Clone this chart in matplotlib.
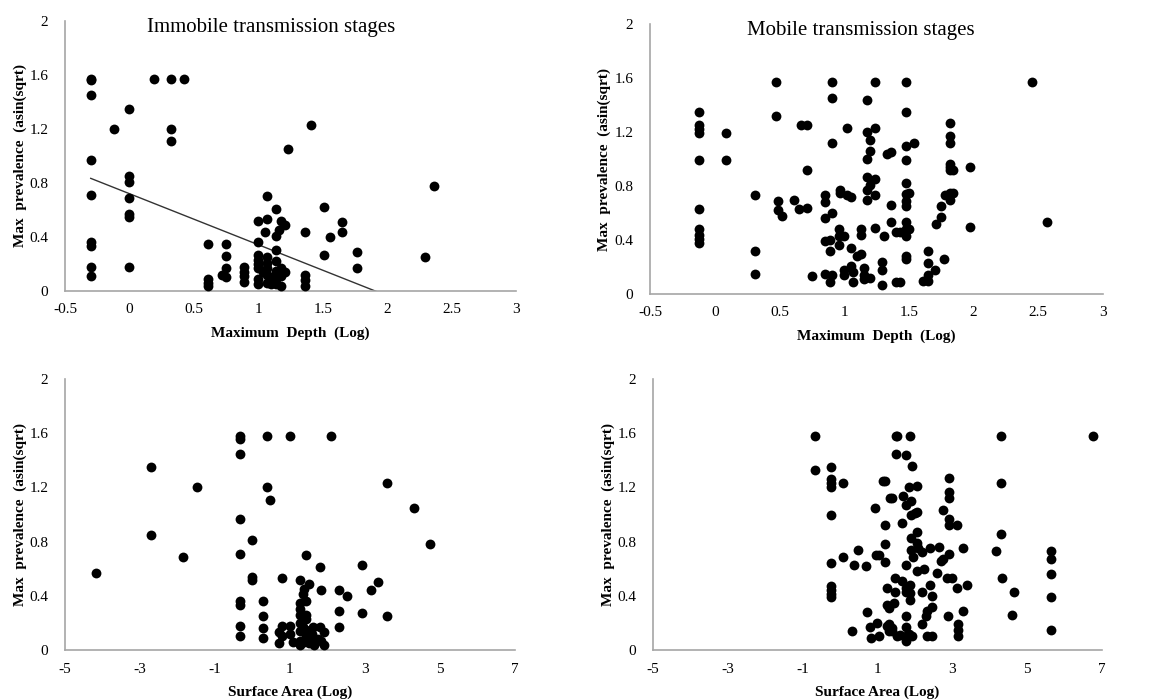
import numpy as np
import matplotlib
matplotlib.use("Agg")
import matplotlib.pyplot as plt
from matplotlib.ticker import FuncFormatter

plt.rcParams['font.family'] = ['Liberation Serif', 'DejaVu Serif']

# values (x, y)
depth_immobile = [
    (-0.30, 1.57), (-0.30, 1.56), (-0.30, 1.45), (-0.30, 0.97), (-0.30, 0.71),
    (-0.30, 0.36), (-0.30, 0.33), (-0.30, 0.18), (-0.30, 0.11),
    (-0.12, 1.20),
    (0.00, 1.35), (0.00, 0.85), (0.00, 0.81), (0.00, 0.69), (0.00, 0.57),
    (0.00, 0.55), (0.00, 0.18),
    (0.19, 1.57), (0.32, 1.57), (0.42, 1.57), (0.32, 1.20), (0.32, 1.11),
    (0.61, 0.35), (0.61, 0.09), (0.61, 0.06), (0.61, 0.04),
    (0.72, 0.12), (0.75, 0.35), (0.75, 0.26), (0.75, 0.17), (0.75, 0.10),
    (0.89, 0.18), (0.89, 0.14), (0.89, 0.11), (0.89, 0.07),
    (1.00, 0.52), (1.00, 0.36), (1.00, 0.27), (1.00, 0.23), (1.00, 0.20),
    (1.00, 0.17), (1.00, 0.09), (1.00, 0.05),
    (1.07, 0.70), (1.07, 0.53), (1.05, 0.44), (1.07, 0.25), (1.07, 0.21),
    (1.07, 0.17), (1.07, 0.12), (1.07, 0.06), (1.04, 0.14), (1.10, 0.10), (1.10, 0.05),
    (1.14, 0.61), (1.14, 0.41), (1.16, 0.45), (1.14, 0.30), (1.14, 0.22),
    (1.14, 0.15), (1.14, 0.09), (1.14, 0.05),
    (1.18, 0.52), (1.21, 0.49), (1.18, 0.17), (1.18, 0.11), (1.18, 0.04), (1.21, 0.14),
    (1.23, 1.05), (1.41, 1.23), (1.36, 0.44), (1.36, 0.12), (1.36, 0.08), (1.36, 0.04),
    (1.51, 0.62), (1.51, 0.27), (1.56, 0.40), (1.65, 0.51), (1.65, 0.44),
    (1.77, 0.29), (1.77, 0.17), (2.29, 0.25), (2.36, 0.78),
]
# trend line in the immobile depth panel
trend_slope = -0.378
trend_intercept = 0.721

depth_mobile = [
    (-0.12, 1.35), (-0.12, 1.25), (-0.12, 1.22), (-0.12, 1.19), (-0.12, 0.99),
    (-0.12, 0.63), (-0.12, 0.48), (-0.12, 0.44), (-0.12, 0.41), (-0.12, 0.38),
    (0.09, 1.19), (0.09, 0.99),
    (0.31, 0.73), (0.31, 0.32), (0.31, 0.15),
    (0.47, 1.57), (0.47, 1.32), (0.49, 0.69), (0.49, 0.62), (0.52, 0.58),
    (0.61, 0.70), (0.65, 0.63), (0.67, 1.25), (0.71, 1.25), (0.71, 0.92), (0.71, 0.64),
    (0.75, 0.13),
    (0.85, 0.73), (0.85, 0.68), (0.85, 0.56), (0.85, 0.39), (0.85, 0.15),
    (0.89, 0.40), (0.89, 0.32), (0.89, 0.09),
    (0.91, 1.57), (0.91, 1.45), (0.91, 1.12), (0.91, 0.60), (0.91, 0.14),
    (0.96, 0.48), (0.96, 0.43), (0.96, 0.36), (0.97, 0.77), (0.97, 0.75),
    (1.00, 0.43), (1.00, 0.18), (1.00, 0.14),
    (1.02, 1.23), (1.02, 0.73), (1.05, 0.72), (1.05, 0.34), (1.05, 0.21),
    (1.07, 0.16), (1.07, 0.09),
    (1.10, 0.28), (1.13, 0.30), (1.13, 0.48), (1.13, 0.44),
    (1.15, 0.19), (1.15, 0.14), (1.15, 0.11),
    (1.18, 0.70), (1.18, 1.00), (1.18, 1.44), (1.18, 1.20), (1.18, 0.87), (1.18, 0.77),
    (1.20, 1.14), (1.20, 1.06), (1.20, 0.81), (1.20, 0.12),
    (1.24, 1.57), (1.24, 1.23), (1.24, 0.85), (1.24, 0.73), (1.24, 0.49),
    (1.29, 0.24), (1.29, 0.18), (1.29, 0.07), (1.31, 0.43),
    (1.33, 1.04), (1.36, 1.05), (1.36, 0.66), (1.36, 0.53),
    (1.40, 0.46), (1.40, 0.09), (1.43, 0.46), (1.43, 0.09),
    (1.48, 1.57), (1.48, 1.35), (1.48, 1.10), (1.48, 0.99), (1.48, 0.82),
    (1.48, 0.74), (1.48, 0.69), (1.48, 0.65), (1.48, 0.53), (1.48, 0.48),
    (1.48, 0.43), (1.48, 0.28), (1.48, 0.26),
    (1.50, 0.75), (1.50, 0.48), (1.54, 1.12),
    (1.61, 0.10), (1.65, 0.32), (1.65, 0.23), (1.65, 0.10), (1.65, 0.14),
    (1.70, 0.18), (1.71, 0.52), (1.75, 0.65), (1.75, 0.57), (1.77, 0.26), (1.78, 0.73),
    (1.82, 1.27), (1.82, 1.17), (1.82, 1.12), (1.82, 0.96), (1.82, 0.94),
    (1.82, 0.92), (1.82, 0.75), (1.82, 0.70), (1.84, 0.92), (1.84, 0.75),
    (1.97, 0.94), (1.97, 0.50),
    (2.45, 1.57), (2.57, 0.53),
]

area_immobile = [
    (-4.17, 0.57), (-2.71, 1.35), (-2.71, 0.85), (-1.84, 0.69), (-1.48, 1.20),
    (-0.32, 1.58), (-0.32, 1.56), (-0.32, 1.45), (-0.32, 0.97), (-0.32, 0.71),
    (-0.32, 0.36), (-0.32, 0.33), (-0.32, 0.18), (-0.32, 0.10),
    (-0.02, 0.81), (-0.02, 0.54), (-0.02, 0.52),
    (0.27, 0.36), (0.27, 0.25), (0.27, 0.16), (0.27, 0.09),
    (0.40, 1.58), (0.40, 1.20), (0.47, 1.11),
    (0.80, 0.53), (1.01, 1.58), (1.43, 0.70), (1.81, 0.61), (1.83, 0.44),
    (1.28, 0.52), (1.34, 0.41), (1.38, 0.45), (1.50, 0.49),
    (1.28, 0.35), (1.28, 0.30), (1.28, 0.26), (1.43, 0.36), (1.43, 0.26), (1.43, 0.23),
    (0.70, 0.05), (0.70, 0.13), (0.79, 0.18), (0.80, 0.10), (1.00, 0.18),
    (1.00, 0.12), (1.07, 0.06), (1.28, 0.20), (1.28, 0.14), (1.28, 0.07),
    (1.28, 0.04), (1.34, 0.17), (1.43, 0.15), (1.43, 0.10), (1.50, 0.05),
    (1.60, 0.12), (1.62, 0.17), (1.65, 0.04), (1.74, 0.08), (1.81, 0.17),
    (1.83, 0.07), (1.92, 0.13), (1.92, 0.04), (1.55, 0.08), (1.38, 0.06),
    (2.09, 1.58), (2.32, 0.44), (2.32, 0.29), (2.32, 0.17), (2.52, 0.40),
    (2.91, 0.63), (2.91, 0.27), (3.16, 0.44), (3.36, 0.50), (3.58, 0.25),
    (3.60, 1.23), (4.30, 1.05), (4.73, 0.78),
]

area_mobile = [
    (-0.67, 1.58), (-0.67, 1.33),
    (-0.23, 1.35), (-0.23, 1.26), (-0.23, 1.23), (-0.23, 1.20), (-0.23, 1.00),
    (-0.23, 0.64), (-0.23, 0.47), (-0.23, 0.44), (-0.23, 0.41), (-0.23, 0.39),
    (0.07, 1.23), (0.07, 0.69), (0.31, 0.14), (0.37, 0.63), (0.49, 0.74),
    (0.69, 0.62), (0.73, 0.28), (0.80, 0.17), (0.82, 0.09),
    (0.93, 1.05), (0.97, 0.70), (1.04, 0.70), (0.99, 0.20), (1.04, 0.10),
    (1.15, 1.25), (1.21, 1.25), (1.21, 0.92), (1.21, 0.78), (1.21, 0.65),
    (1.26, 0.46), (1.26, 0.33), (1.32, 0.31), (1.26, 0.18), (1.32, 0.19),
    (1.38, 0.16), (1.38, 0.14), (1.32, 0.14),
    (1.33, 1.12), (1.38, 1.12), (1.44, 0.35), (1.46, 0.43), (1.48, 0.53),
    (1.50, 1.58), (1.53, 1.58), (1.50, 1.45), (1.52, 0.10), (1.60, 0.11),
    (1.65, 0.94), (1.68, 1.14), (1.66, 0.51),
    (1.77, 1.44), (1.77, 1.07), (1.77, 0.63), (1.77, 0.46), (1.77, 0.43),
    (1.77, 0.25), (1.77, 0.17), (1.77, 0.10), (1.77, 0.07),
    (1.87, 1.58), (1.92, 1.36), (1.85, 1.20), (1.90, 1.10), (1.90, 1.00),
    (1.90, 0.83), (1.88, 0.48), (1.88, 0.42), (1.88, 0.37), (1.90, 0.74),
    (1.94, 0.69), (1.93, 0.10), (1.85, 0.12),
    (2.00, 1.01), (2.06, 1.02), (2.05, 1.21), (2.05, 0.87), (2.05, 0.79),
    (2.05, 0.58), (2.09, 0.75),
    (2.20, 0.72), (2.20, 0.43), (2.20, 0.19), (2.25, 0.60), (2.31, 0.25),
    (2.33, 0.29), (2.33, 0.10), (2.41, 0.75), (2.41, 0.48), (2.45, 0.40),
    (2.45, 0.32), (2.47, 0.10), (2.58, 0.57), (2.65, 0.76), (2.70, 0.66),
    (2.76, 0.67), (2.74, 1.03),
    (2.88, 0.25), (2.91, 1.27), (2.91, 1.17), (2.91, 1.12), (2.91, 0.97),
    (2.91, 0.92), (2.91, 0.71), (2.87, 0.53), (2.98, 0.53),
    (3.13, 0.92), (3.13, 0.46), (3.15, 0.19), (3.15, 0.15), (3.15, 0.10),
    (3.29, 0.75), (3.29, 0.29), (3.38, 0.48),
    (4.17, 0.73), (4.30, 1.58), (4.30, 1.23), (4.30, 0.86), (4.34, 0.53),
    (4.65, 0.43), (4.60, 0.26),
    (5.64, 0.73), (5.64, 0.67), (5.64, 0.56), (5.64, 0.39), (5.64, 0.15),
    (6.76, 1.58),
]

y_label = "Max  prevalence  (asin(sqrt)"
depth_label = "Maximum  Depth  (Log)"
area_label = "Surface Area (Log)"

fig = plt.figure(figsize=(11.64, 7.0), dpi=100)

panels = [
    # data, axes rect, xlim, xticks, xlabel, title, title x, xlabel y
    (depth_immobile, [0.0558, 0.5843, 0.3875, 0.3857], (-0.5, 3), np.arange(-0.5, 3.01, 0.5),
     depth_label, "Immobile transmission stages", 0.457, -0.13),
    (depth_mobile, [0.5584, 0.5800, 0.3892, 0.3857], (-0.5, 3), np.arange(-0.5, 3.01, 0.5),
     depth_label, "Mobile transmission stages", 0.466, -0.13),
    (area_immobile, [0.0558, 0.0714, 0.3866, 0.3871], (-5, 7), np.arange(-5, 7.01, 2),
     area_label, None, 0, -0.132),
    (area_mobile, [0.5610, 0.0714, 0.3857, 0.3871], (-5, 7), np.arange(-5, 7.01, 2),
     area_label, None, 0, -0.132),
]

fmt = FuncFormatter(lambda v, p: "%g" % round(v, 2))

for i, (pts, rect, xlim, xticks, xlab, title, tx, ly) in enumerate(panels):
    ax = fig.add_axes(rect)
    xy = np.array(pts)
    ax.scatter(xy[:, 0], xy[:, 1], s=50, color='black', linewidths=0, zorder=3)
    if i == 0:
        xs = np.array([xy[:, 0].min(), xy[:, 0].max()])
        ax.plot(xs, trend_intercept + trend_slope * xs, color='#333333', lw=1.0, zorder=2)
    ax.set_xlim(*xlim)
    ax.set_ylim(0, 2)
    ax.set_xticks(xticks)
    ax.set_yticks(np.arange(0, 2.01, 0.4))
    ax.xaxis.set_major_formatter(fmt)
    ax.yaxis.set_major_formatter(fmt)
    for s in ['top', 'right']:
        ax.spines[s].set_visible(False)
    for s in ['left', 'bottom']:
        ax.spines[s].set_color('#a6a6a6')
        ax.spines[s].set_linewidth(1.2)
    ax.tick_params(axis='both', length=0, labelsize=11)
    ax.tick_params(axis='x', pad=9)
    ax.tick_params(axis='y', pad=12)
    ax.set_xlabel(xlab, fontsize=11, fontweight='bold')
    ax.xaxis.set_label_coords(0.5, ly)
    ax.set_ylabel(y_label, fontsize=11, fontweight='bold')
    ax.yaxis.set_label_coords(-0.085, 0.5)
    if title:
        ax.text(tx, 0.975, title, transform=ax.transAxes, ha='center', va='center',
                fontsize=15)

fig.savefig("out.png", dpi=100)
